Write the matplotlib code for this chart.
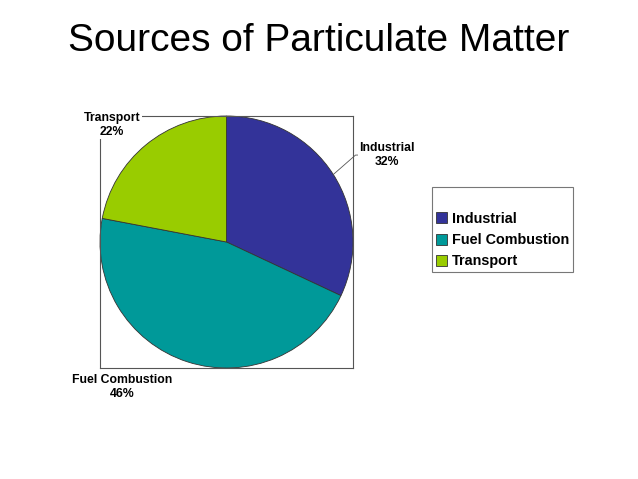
import numpy as np
import matplotlib.pyplot as plt

sources = ['Industrial', 'Fuel Combustion', 'Transport']
shares = [32, 46, 22]
colors = ['#333399', '#009999', '#99cc00']

plt.rcParams['font.family'] = ['Liberation Sans', 'DejaVu Sans']

W, H = 638, 479
fig = plt.figure(figsize=(W / 100, H / 100), dpi=100)
fig.text(0.5, 1 - 41 / H, 'Sources of Particulate Matter', ha='center', va='center', fontsize=28)

# plot area box (pie inscribed)
ax = fig.add_axes([100 / W, 1 - 368 / H, 253 / W, 252 / H])
wedges, _ = ax.pie(shares, colors=colors, startangle=90, counterclock=False, radius=1,
                   wedgeprops=dict(edgecolor='#333333', linewidth=0.6))
ax.set_xlim(-1, 1)
ax.set_ylim(-1, 1)
ax.set_aspect('auto')
ax.set_axis_on()
ax.set_frame_on(True)
ax.set_xticks([])
ax.set_yticks([])
for s in ax.spines.values():
    s.set_visible(True)
    s.set_color('#555555')
    s.set_linewidth(0.8)

lbl = dict(ha='center', va='center', fontsize=8.8, fontweight='bold', clip_on=False, linespacing=1.2,
           bbox=dict(facecolor='white', edgecolor='none', pad=1), zorder=5)
ax.text(-0.905, 0.93, f'{sources[2]}\n{shares[2]}%', **lbl)
ax.text(-0.825, -1.15, f'{sources[1]}\n{shares[1]}%', **lbl)
ax.text(1.27, 0.69, f'{sources[0]}\n{shares[0]}%', **lbl)

# leader line for Industrial
mid = np.deg2rad(90 - shares[0] / 100 * 360 / 2)
ax.plot([np.cos(mid), 1.02, 1.04], [np.sin(mid), 0.69, 0.69], color='#555555', lw=0.6, clip_on=False)

leg = fig.legend(wedges, sources, loc='upper left', bbox_to_anchor=(432 / W, 1 - 187 / H),
                 frameon=True, fancybox=False, edgecolor='#555555', prop=dict(size=10.4, weight='bold'),
                 handlelength=0.8, handleheight=0.8, handletextpad=0.35, labelspacing=0.5,
                 title=' ', title_fontsize=11, borderpad=0.25, borderaxespad=0)
leg.get_frame().set_linewidth(0.8)

fig.savefig('out.png', dpi=100)
